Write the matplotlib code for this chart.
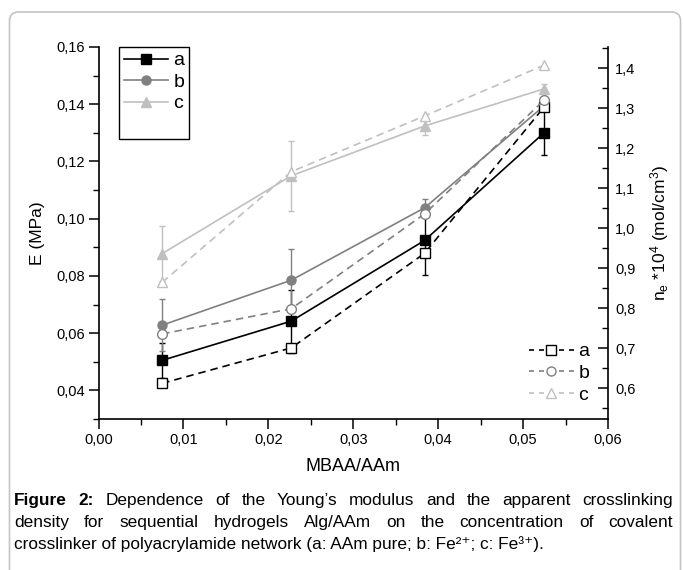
import matplotlib
matplotlib.use('Agg')
import matplotlib.pyplot as plt
from matplotlib.ticker import MultipleLocator, FuncFormatter
from matplotlib.lines import Line2D
from matplotlib.patches import FancyBboxPatch
from matplotlib.transforms import IdentityTransform

plt.rcParams['font.family'] = ['Liberation Sans', 'DejaVu Sans']
plt.rcParams['mathtext.fontset'] = 'custom'
plt.rcParams['mathtext.rm'] = 'Liberation Sans'
plt.rcParams['mathtext.it'] = 'Liberation Sans:italic'
plt.rcParams['mathtext.bf'] = 'Liberation Sans:bold'
plt.rcParams['mathtext.default'] = 'regular'

# ---------------- data ----------------
x = [0.0075, 0.0227, 0.0384, 0.0525]
E_a = [0.0505, 0.0642, 0.0924, 0.1301]
E_a_err = [0.006, 0.011, 0.012, 0.008]
E_b = [0.0628, 0.0785, 0.1038, 0.1395]
E_b_err = [0.009, 0.011, 0.003, 0.002]
E_c = [0.0878, 0.1150, 0.1324, 0.1454]
E_c_err = [0.0095, 0.0122, 0.003, 0.0015]
n_a = [0.6125, 0.701, 0.9375, 1.304]
n_b = [0.736, 0.799, 1.036, 1.321]
n_c = [0.865, 1.1415, 1.281, 1.408]
labels = ['a', 'b', 'c']

col_a, col_b, col_c = '#000000', '#808080', '#c0c0c0'

W, H = 683, 570
fig = plt.figure(figsize=(W / 100, H / 100), dpi=100)
ax = fig.add_axes([98.5 / W, 1 - 419 / H, (608 - 98.5) / W, (419 - 47) / H])
ax2 = ax.twinx()

lw = 1.2
ms = 6.5
kw = dict(lw=lw, capsize=2.5, elinewidth=1.0, capthick=1.0, markersize=ms)
ax.errorbar(x, E_a, yerr=E_a_err, color=col_a, marker='s', **kw)
ax.errorbar(x, E_b, yerr=E_b_err, color=col_b, marker='o', **kw)
ax.errorbar(x, E_c, yerr=E_c_err, color=col_c, marker='^', **kw)

dash = (4.5, 3)
ax2.plot(x, n_a, color=col_a, ls='--', dashes=dash, lw=lw, marker='s', ms=ms, mfc='white', mec=col_a)
ax2.plot(x, n_b, color=col_b, ls='--', dashes=dash, lw=lw, marker='o', ms=ms + 0.5, mfc='white', mec=col_b)
ax2.plot(x, n_c, color=col_c, ls='--', dashes=dash, lw=lw, marker='^', ms=ms + 0.5, mfc='white', mec=col_c)

ax.set_xlim(0, 0.06)
ax.set_ylim(0.03, 0.16)
ax2.set_ylim(0.5233, 1.4533)

comma2 = FuncFormatter(lambda v, p: ('%.2f' % v).replace('.', ','))
comma1 = FuncFormatter(lambda v, p: ('%.1f' % v).replace('.', ','))
ax.xaxis.set_major_locator(MultipleLocator(0.01))
ax.xaxis.set_minor_locator(MultipleLocator(0.005))
ax.xaxis.set_major_formatter(comma2)
ax.yaxis.set_major_locator(MultipleLocator(0.02))
ax.yaxis.set_minor_locator(MultipleLocator(0.01))
ax.yaxis.set_major_formatter(comma2)
ax2.yaxis.set_major_locator(MultipleLocator(0.1))
ax2.yaxis.set_minor_locator(MultipleLocator(0.05))
ax2.yaxis.set_major_formatter(comma1)

for a in (ax, ax2):
    a.spines['top'].set_visible(False)
    for s in a.spines.values():
        s.set_linewidth(1.2)
ax.spines['right'].set_visible(False)
ax2.spines['left'].set_visible(False)
ax2.spines['bottom'].set_visible(False)

ax.tick_params(which='major', direction='out', length=7, width=1.1, labelsize=10.5, pad=3)
ax.tick_params(which='minor', direction='out', length=4, width=1.0)
ax2.tick_params(which='major', direction='in', length=7, width=1.1, labelsize=10.5, pad=5)
ax2.tick_params(which='minor', direction='in', length=4, width=1.0)

ax.set_xlabel('MBAA/AAm', fontsize=13, labelpad=8)
ax.set_ylabel('E (MPa)', fontsize=12.5, labelpad=8)
ax2.set_ylabel('n$_e$ *10$^4$ (mol/cm$^3$)', fontsize=12.5, labelpad=9)

# legends
lfs = 14
h1 = [Line2D([], [], color=col_a, lw=lw, marker='s', ms=ms),
      Line2D([], [], color=col_b, lw=lw, marker='o', ms=ms),
      Line2D([], [], color=col_c, lw=lw, marker='^', ms=ms),
      Line2D([], [], color='none')]
leg1 = ax2.legend(h1, labels + [' '], loc='upper left', bbox_to_anchor=(0.040, 1.0),
                  borderaxespad=0, fontsize=lfs, handlelength=2.3, handletextpad=0.25,
                  labelspacing=0.2, borderpad=0.25, fancybox=False, framealpha=1,
                  edgecolor='black')
leg1.get_frame().set_linewidth(1.0)
ax2.add_artist(leg1)
h2 = [Line2D([], [], color=col_a, lw=lw, ls='--', dashes=(3, 3), marker='s', ms=ms, mfc='white'),
      Line2D([], [], color=col_b, lw=lw, ls='--', dashes=(3, 3), marker='o', ms=ms, mfc='white'),
      Line2D([], [], color=col_c, lw=lw, ls='--', dashes=(3, 3), marker='^', ms=ms, mfc='white')]
ax2.legend(h2, labels, loc='upper left', bbox_to_anchor=(0.845, 0.205), borderaxespad=0,
           frameon=False, fontsize=lfs, handlelength=2.3, handletextpad=0.25,
           labelspacing=0.22, borderpad=0)

# figure border
box = FancyBboxPatch((9.5, -30), 671, 570 - 12 + 30, boxstyle='round,pad=0,rounding_size=9',
                     transform=IdentityTransform(), fc='none', ec='#c4c4c4', lw=1.2)
fig.patches.append(box)

# caption (justified)
fs = 12.4
renderer = fig.canvas.get_renderer()

def width(s, weight='normal'):
    t = fig.text(0, 0, s, fontsize=fs, weight=weight)
    w = t.get_window_extent(renderer).width
    t.remove()
    return w

def justified(words, y, x0=14, x1=673):
    ws = [width(w, wt) for w, wt in words]
    gap = (x1 - x0 - sum(ws)) / (len(words) - 1)
    xp = x0
    for (w, wt), ww in zip(words, ws):
        fig.text(xp / W, 1 - y / H, w, fontsize=fs, weight=wt, va='baseline', ha='left')
        xp += ww + gap

line1 = [('Figure', 'bold'), ('2:', 'bold')] + [(w, 'normal') for w in
         'Dependence of the Young\u2019s modulus and the apparent crosslinking'.split()]
line2 = [(w, 'normal') for w in
         'density for sequential hydrogels Alg/AAm on the concentration of covalent'.split()]
justified(line1, 505)
justified(line2, 527)
fig.text(14 / W, 1 - 549 / H,
         'crosslinker of polyacrylamide network (a: AAm pure; b: Fe\u00b2\u207a; c: Fe\u00b3\u207a).',
         fontsize=fs, va='baseline', ha='left')

fig.savefig('out.png', dpi=100)
